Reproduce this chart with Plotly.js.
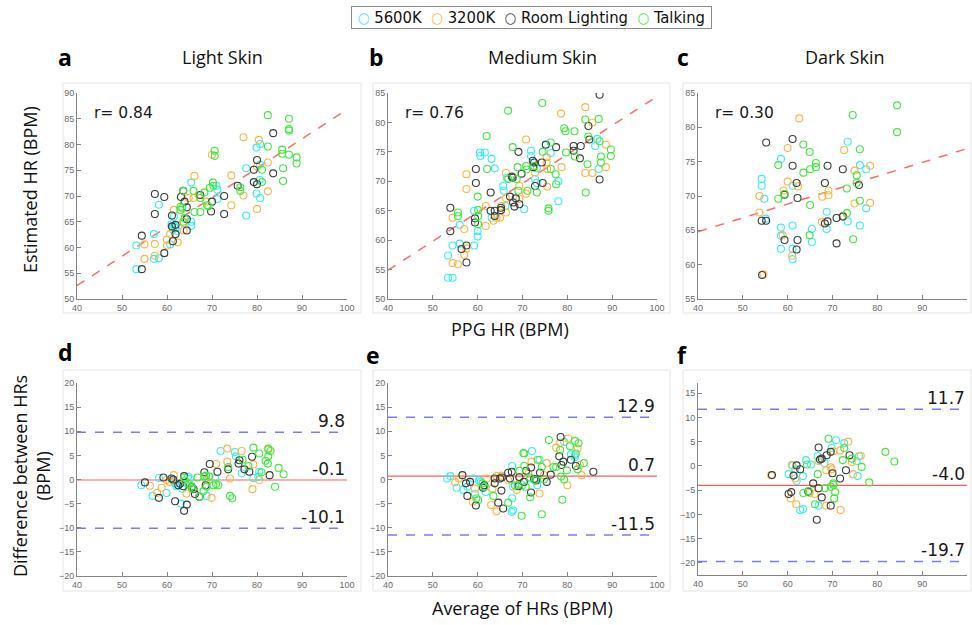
<!DOCTYPE html>
<html>
<head>
<meta charset="utf-8">
<script src="https://cdn.plot.ly/plotly-3.0.1.min.js"></script>
<style>html,body{margin:0;padding:0;background:#fff;}#chart{width:972px;height:625px;}</style>
</head>
<body>
<div id="chart"></div>
<script>
// ---------- DATA ----------
const seriesNames = ['5600K', '3200K', 'Room Lighting', 'Talking'];
const panelTitles = ['Light Skin', 'Medium Skin', 'Dark Skin'];
const panelLetters = ['a', 'b', 'c', 'd', 'e', 'f'];
const xTicks = [40, 50, 60, 70, 80, 90, 100];

// Panel a (Light skin) : PPG HR vs estimated HR
const aCyanX = [53.2,53.2,57.1,57.1,58.2,58.2,65.4,61.0,61.5,61.9,61.3,62.2,60.7,65.4,65.4,71.0,71.2,71.2,77.6,77.6,79.9,80.7,79.9,80.7,80.6,80.7,61.5];
const aCyanY = [55.8,60.4,62.6,57.8,57.9,68.3,72.6,64.5,64.2,63.8,63.5,63.2,60.6,65.0,64.2,72.0,71.2,69.4,75.4,66.2,79.4,80.1,70.5,69.6,73.1,76.1,66.0];
const aOrangeX = [55,55,57.3,57.3,60,60,62.4,61.5,64.8,65.9,66.1,67,68.7,70,74.3,74.3,77,77,80.4,80,82.4,82.4,80,63.7,63.7,60.7];
const aOrangeY = [60.6,57.8,60.7,58.4,61.5,60.4,61,67.3,69.6,69.6,73.9,70.2,68.9,78,74,68.2,81.4,70.1,80.9,67.5,76.5,70.9,75.7,64.7,63.3,62.6];
const aBlackX = [54.4,54.4,57.3,57.3,59.4,59.4,61.1,61.1,61.3,61.9,61.9,63.1,63.6,63.9,64.4,64.4,64.4,67.4,69.8,70,72.7,72.7,75.7,79.3,79.3,80,80,83.6,83.6];
const aBlackY = [62.3,55.8,70.4,66.5,69.8,58.9,66.2,64.1,61.2,62.6,64.4,69.8,71,68.9,67.8,65.5,63.3,70.2,67,68.9,70,66.5,72,75.1,72.7,77,72.3,82.2,74.4];
const aGreenX = [63.6,63,63,63.4,63.9,63.6,65.9,66.1,67.4,67.4,68.3,68.9,69.2,69.5,70.2,70.3,70.6,70.6,76.3,76.3,81.1,81.1,82.4,82.4,85.6,85.6,85.8,85.8,87.1,87.1,87.1,87.1,88.8,88.8];
const aGreenY = [71,67.9,67.3,67.7,65.7,65,71,66.9,66.9,69.6,70.7,68.2,68,71.6,72.6,72,78.8,77.8,71.7,71,75.1,72.7,85.7,79.6,79,78.2,75.4,72.9,85,83,82.7,78,77.5,76.3];

// Panel b (Medium skin)
const bCyanX = [53.4,53.4,54.4,54.4,56,56,59.2,59.2,60,60,60.5,60.6,61.6,63.1,63.8,63.1,65.7,65.8,66.2,66.5,70.4,71.9,71.9,73.2,72.8,75.2,76.3,78,78,86.2,86.7,87,73.2];
const bCyanY = [57.4,53.6,53.6,59.1,59.4,62.6,59.1,65,61.5,60.6,74.9,74.3,74.9,73.8,72.2,63.8,69.2,68.4,65.8,70.6,65.3,75.2,74.3,72.2,70.4,76.3,74.8,70,66.6,76,77.2,72.1,69.7];
const bOrangeX = [54.4,54.4,55.6,57,57,57.5,57.5,57.5,61.8,61.8,63.5,64.2,65,65.3,66.3,66.3,66.3,69.3,69.3,70.8,70.8,72.8,75.4,75.4,75.5,75.5,78.6,78.7,84,84,85.6,85.6,88.6,88.6];
const bOrangeY = [63.8,56.1,55.9,61.9,57.5,71.2,68.7,58.6,65.8,62.4,63.3,63.8,63.8,65.8,71.4,67.1,64.7,69.2,67,77.1,67.9,71.5,74.1,73.2,72.1,69.1,81.5,72.4,82.6,71.4,80,71.4,76.2,72.4];
const bBlackX = [53.9,53.9,56.4,57.5,57.5,59.6,59.6,59.4,59.4,62.9,62.9,63.8,63.8,65.2,65.2,67.2,67.6,67.8,67.9,68.2,68.5,69.1,69.3,69.8,72.3,72.6,72.4,72.8,74.3,74.5,75.2,77.5,81.4,81.4,82.8,83,84.7,84.9,87.2,87.2];
const bBlackY = [65.5,61.5,58.5,59.1,56.2,72.1,69.7,63.7,63,68.1,65,65,64.1,65.5,65.1,67.4,70.8,70.6,66.4,65.7,67.1,75,66.1,71.3,73.5,73.2,72.4,69.2,73.2,69.7,76.2,75.8,76,75.2,73.9,76,79.4,77.1,84.7,70.3];
const bGreenX = [55.6,55.6,60,60.1,60.1,60.1,62,62.1,66.8,66.8,67.8,68.7,68.9,69.1,70.8,70.9,71.1,72.6,73.2,74.4,74.5,75.8,75.8,76.3,76.3,77.4,77.5,79.3,79.6,79.7,81.6,81.7,84,84.1,84.5,84.7,87,87.2,87.5,87.5,89.7,89.7];
const bGreenY = [64.7,64.1,67.4,65.1,64.1,62.7,77.7,72.1,82,70.4,75.8,70.4,72.4,68.4,72.6,72,68.4,72.6,68.1,83.3,75,65.4,65,76.6,72.1,71.2,69.5,79,78.5,74.9,78.5,74.2,80.5,68.1,72.9,77.6,80.6,76.8,74.2,73.2,75.4,74.3];

// Panel c (Dark skin)
const cCyanX = [54.2,54.2,54.8,55.1,58.5,58.5,58.5,58.5,61.1,61.1,61.1,61.1,65.4,65.4,68.7,68.7,73.4,73.4,76.1,76.1,77.5,77.5];
const cCyanY = [72.5,71.5,69.6,66.7,75.4,65.4,64.2,62.3,71.5,65.7,62.3,60.8,65.2,63.3,67.7,65.2,77.9,66.3,74.5,65.7,73.9,68.2];
const cOrangeX = [53.7,53.7,54.6,58.9,59.1,60,60,61,62.3,62.6,67.6,67.7,69.1,69.1,72.6,72.4,74.9,74.9,78.4,78.4];
const cOrangeY = [70,67.6,58.6,64.3,70.8,77,72.1,61.3,71.4,81.3,66.2,69.9,70.8,70.1,76.7,67.1,73.7,68.9,74.4,69];
const cBlackX = [54.2,55.2,55.2,54.3,59.3,59.3,61.1,61.1,62,62.2,62.2,62,68.3,68.3,68.9,68.9,70.9,70.9,72.3,72.3,75.9];
const cBlackY = [66.4,66.4,77.8,58.5,70.2,63.6,78.3,74.4,71.9,69.7,63.6,62.2,71.9,66,74.4,66.3,66.8,63.1,73.9,67,71.6];
const cGreenX = [57.9,57.9,59.3,63.5,63.5,64.9,65,65,64.9,66.3,66.3,73.2,73.2,74.5,74.6,75.4,75.4,76.1,76.1,84.4,84.4];
const cGreenY = [74.5,69.6,70.3,77.5,73.4,76.4,73.9,68.7,64.3,74.8,74.2,71.1,67.5,81.8,63.7,73,71.9,76.8,69.3,83.2,79.3];

// Panel d (Light skin Bland-Altman)
const dCyanX = [54.3,56.8,58.2,59.9,61.4,61.8,62.1,62.5,63.1,64.7,65.1,68.8,70.7,71.9,75.1,75.3,76.6,79.2,80.5,80.3,63.4];
const dCyanY = [-1.2,-3.4,0.3,-2.8,-0.3,-0.8,-1.4,-1.2,-5,0.6,0.1,-3.4,0.2,5.9,5.7,4.8,1.3,0.3,1.6,0.6,-1.9];
const dOrangeX = [56.2,57.8,58.8,59.9,60.6,61.5,64.3,65.5,68.8,69.9,70.9,73.4,73.4,74,76.6,79.2,79,80.5,82.5];
const dOrangeY = [-1.3,-2.8,-1.7,-0.1,-0.5,0.9,-2.9,-1.7,-0.1,-3.8,3.2,6.4,3.7,0.2,5.9,3.1,-2,-0.1,6.2];
const dBlackX = [55.1,58.2,59.2,61,61.4,61.8,62.5,62.9,63.8,63.8,64.4,63.6,65.5,65.9,66.2,67.2,68.3,68.6,69.5,71.2,73.6,76.1,75.9,77.2,78.3,78.9,82.8];
const dBlackY = [-0.6,-3.8,0.4,0.2,0,-4.5,-1.2,-0.9,0.7,-6.5,-5.2,-1.4,-1.5,-2,-3,-3.6,1.5,-1.2,3.2,1.6,2.1,4,3.3,2.1,1.6,4.7,0.9];
const dGreenX = [63.8,64,64.9,65.4,65.7,66.8,67.2,68.3,68.7,68.8,69.4,70.3,70.9,71.4,73.6,74,74.5,76.8,78.1,79.2,80.5,81,81.9,82.4,82.5,83,82.5,84,84.8,85.9,68.1];
const dGreenY = [0.3,-0.2,-1,-1.5,-1.9,0.4,-3.6,0.6,0.8,-1.5,0.6,-1.2,-1,-1.2,2.6,-3.4,-3.9,4.1,2.8,6.6,5.4,1.5,3.9,3.3,6.4,5.9,4.8,-1.5,2.4,1.1,-2.4];

// Panel e (Medium skin Bland-Altman)
const eCyanX = [53.2,53.9,55.3,56.8,57.7,59,59.4,60.3,60.7,61.8,67.7,67.7,67.9,67.6,67.9,70,72.1,73.3,73.8,79.3,80.8,81.7,81.7,71.7,73.2];
const eCyanY = [0.2,0.7,-1.7,-2.1,-1.5,0.2,-3,-0.2,-0.5,-2.6,2.8,-3.9,-1.5,-6.7,-6.4,-1.2,5.9,-1.2,4.1,7.8,5.2,5,4.6,0.2,-0.1];
const eOrangeX = [55,55.8,58.9,59.4,62,63,63.3,64.2,64.2,65.3,66.8,68.7,69.3,71.3,72,73.8,75.4,77.5,78.4,80,80.2,82.3,82.8,83.2,74.8];
const eOrangeY = [-0.6,0.2,-4.6,-1.9,0.2,-5.3,-1.9,0.7,-6.6,0.8,-0.1,-2.2,0.3,1.2,3.7,-2.9,3.4,6.6,7.6,-1.2,8.5,6.4,3,0.9,0.9];
const eBlackX = [56.6,57.4,57.7,58.3,59.6,61.2,61.5,63.8,63.8,64.6,65,65.4,65.3,65.7,66.8,67.6,67.2,69.1,69.3,70.3,70.8,71.9,71.9,72.6,73,73.9,75.4,76.3,78.2,78.5,78.7,79.1,80.8,81.9,85.8];
const eBlackY = [0.9,-0.8,-3.4,-0.5,-5.4,-1.7,-1.2,0.2,-0.8,-4.8,0.2,0.4,-2.3,-6,1.4,1.6,0.2,-1.4,0.5,-0.5,1.8,2.5,-2.7,0.1,-0.2,1.4,-0.5,1,4.8,8.8,3,3.7,4.1,2.8,1.6];
const eGreenX = [59.7,60.1,61.1,61.5,63.5,66.8,68.3,68.9,69.3,69.8,70.2,70.4,70.4,70.7,71.7,71.7,72.8,73.4,74.3,74.3,74.8,75.9,76.9,77.5,78.4,78.6,78.9,79.9,80.6,81.7,81.9,82.3,82.5,83.7,79.3];
const eGreenY = [-3.9,-4.3,-0.8,-1.5,-3.4,-4.8,-1.2,-1.2,1.8,-7.5,5.5,5.4,2.8,-1.5,0.4,-3.7,-0.1,4.1,2.6,-7.2,0,8.2,2.6,2.6,6.1,0.6,-4.2,1.9,6.9,8,5.4,2.1,7.5,3.4,0];

// Panel f (Dark skin Bland-Altman)
const fCyanX = [60.2,61.1,61.7,62,62.8,63.4,63.4,64.1,65.2,66.7,66.9,68.2,69.8,70.8,72.6,75.4,75.6,75.9];
const fCyanY = [-1.7,0.1,-0.7,-3.1,-9.1,-8.9,-2.1,1.2,0.3,2,-8.2,0.6,3.7,5.3,4.7,1,-2.1,2];
const fOrangeX = [56.3,60.9,60.7,61.7,61.9,64.9,66,66.9,66.9,68.6,68.6,69.6,69.8,71.7,71.8,73.5,74.3,74.6,76.3,70.2];
const fOrangeY = [-1.9,0.2,-6.7,-2.6,-7.9,-5.6,-5.8,-4.6,1,-0.9,-8.2,-0.3,-0.7,3.2,-9.1,5,0.8,-1.7,2.1,3];
const fBlackX = [56.5,60.2,60.8,61.3,62,62.8,65.7,66.9,66.9,67.2,67.6,67.6,68.7,69.6,69.6,70,71.7,73,73.8,66.5,64.6];
const fBlackY = [-1.9,-5.8,-5.4,-2,0.1,-0.7,-3.6,3.8,-4.6,1.3,1.5,-6.5,2.2,2.9,-8.2,-1.5,-2.6,-0.9,2.2,-11.1,-5.3];
const fGreenX = [63.5,64.3,64.7,66.1,66.7,68.3,69.1,69.6,70.2,70.2,70.6,70.4,72.3,72.6,74.3,76.5,78.2,81.8,83.8];
const fGreenY = [-5.6,0.3,-5.2,-7.9,-1.7,-4.6,5.6,-4.3,-3.6,-3.9,-5.4,-6.7,1.2,3.7,1.5,-0.2,-3.4,2.9,0.9];

// Statistics
const rValues = ['0.84', '0.76', '0.30'];
const fitX = [40, 100];
const fitStartY = [52.6, 54.9, 64.8];
const fitEndY = [86.8, 84.4, 76.9];
const baMean = [-0.1, 0.7, -4.0];
const baUpper = [9.8, 12.9, 11.7];
const baLower = [-10.1, -11.5, -19.7];

// ---------- STYLE / LAYOUT ----------
const W = 972, H = 625;
const colors = ['#35eef5', '#ffb444', '#3c3c3c', '#3ee83e'];
const px = v => v / W;
const py = v => 1 - v / H;

const panels = [
  {xs:[aCyanX,aOrangeX,aBlackX,aGreenX], ys:[aCyanY,aOrangeY,aBlackY,aGreenY], xd:[77,347], yd:[93,299], yr:[50,90], yt:[50,55,60,65,70,75,80,85,90]},
  {xs:[bCyanX,bOrangeX,bBlackX,bGreenX], ys:[bCyanY,bOrangeY,bBlackY,bGreenY], xd:[388,657], yd:[93,299], yr:[50,85], yt:[50,55,60,65,70,75,80,85]},
  {xs:[cCyanX,cOrangeX,cBlackX,cGreenX], ys:[cCyanY,cOrangeY,cBlackY,cGreenY], xd:[698,967], yd:[93,299], yr:[55,85], yt:[55,60,65,70,75,80,85]},
  {xs:[dCyanX,dOrangeX,dBlackX,dGreenX], ys:[dCyanY,dOrangeY,dBlackY,dGreenY], xd:[77,347], yd:[383,576], yr:[-20,20], yt:[-20,-15,-10,-5,0,5,10,15,20]},
  {xs:[eCyanX,eOrangeX,eBlackX,eGreenX], ys:[eCyanY,eOrangeY,eBlackY,eGreenY], xd:[388,657], yd:[383,576], yr:[-20,20], yt:[-20,-15,-10,-5,0,5,10,15,20]},
  {xs:[fCyanX,fOrangeX,fBlackX,fGreenX], ys:[fCyanY,fOrangeY,fBlackY,fGreenY], xd:[698,967], yd:[383,575], yr:[-22.5,17.1], yt:[-20,-15,-10,-5,0,5,10,15]}
];

const traces = [];
const layout = {
  width: W, height: H,
  margin: {l:0, r:0, t:0, b:0, pad:0},
  paper_bgcolor: '#ffffff', plot_bgcolor: 'rgba(0,0,0,0)',
  showlegend: false,
  annotations: [], shapes: []
};

const axisStyle = {
  showline:true, linecolor:'#858585', linewidth:1, ticks:'inside', ticklen:4, tickcolor:'#858585',
  showgrid:false, zeroline:false, automargin:false, mirror:false,
  tickfont:{family:'Liberation Sans, Arial, sans-serif', size:9, color:'#6a6a6a'}
};

panels.forEach((p, i) => {
  const n = i === 0 ? '' : String(i + 1);
  const xa = 'x' + n, ya = 'y' + n;
  layout['xaxis' + n] = Object.assign({}, axisStyle, {
    domain:[px(p.xd[0]), px(p.xd[1])], range:[40, 100], anchor: ya,
    tickmode:'array', tickvals:xTicks
  });
  layout['yaxis' + n] = Object.assign({}, axisStyle, {
    domain:[py(p.yd[1]), py(p.yd[0])], range:p.yr, anchor: xa,
    tickmode:'array', tickvals:p.yt
  });
  if (i < 3) {
    traces.push({x:fitX, y:[fitStartY[i], fitEndY[i]], xaxis:xa, yaxis:ya, mode:'lines', showlegend:false,
      hoverinfo:'skip', line:{color:'#ff6b6b', width:1.5, dash:'dash'}});
    layout.annotations.push({xref:xa, yref:ya, x:43.3, y:[86.1, 81.6, 82.1][i], xanchor:'left', yanchor:'middle',
      text:'r= ' + rValues[i], showarrow:false, font:{family:'DejaVu Sans, sans-serif', size:15.5, color:'#1a1a1a'}});
  } else {
    const k = i - 3;
    [baUpper[k], baLower[k]].forEach(v => traces.push({x:fitX, y:[v, v], xaxis:xa, yaxis:ya, mode:'lines',
      showlegend:false, hoverinfo:'skip', line:{color:'#7a7cf5', width:1.5, dash:'dash'}}));
    traces.push({x:fitX, y:[baMean[k], baMean[k]], xaxis:xa, yaxis:ya, mode:'lines', showlegend:false,
      hoverinfo:'skip', line:{color:'#ff5a5a', width:1.2}});
    [baUpper[k], baMean[k], baLower[k]].forEach(v => layout.annotations.push({xref:xa, yref:ya, x:100, y:v,
      xanchor:'right', yanchor:'bottom', yshift:-1, text:v.toFixed(1), showarrow:false,
      font:{family:'DejaVu Sans, sans-serif', size:17, color:'#1a1a1a'}}));
  }
  p.xs.forEach((xv, s) => {
    traces.push({x:xv, y:p.ys[s], xaxis:xa, yaxis:ya, mode:'markers', type:'scatter',
      name:seriesNames[s], legendgroup:seriesNames[s], showlegend:false,
      marker:{symbol:'circle-open', size:7, color:colors[s], line:{width:1.1, color:colors[s]}}});
  });
});

// Compact legend box (text with coloured circle glyphs)
const NB = '\u00A0';
const legendText = NB + seriesNames.map((nm, s) =>
  '<span style="color:' + colors[s] + ';font-size:15px">○</span>' + NB + nm).join(NB + NB) + NB;
layout.annotations.push({xref:'paper', yref:'paper', x:px(531), y:py(17), xanchor:'center', yanchor:'middle',
  text:legendText, showarrow:false, bordercolor:'#8c8c8c', borderwidth:1, borderpad:1, bgcolor:'#fff',
  font:{family:'DejaVu Sans Condensed, Liberation Sans Narrow, sans-serif', size:16.5, color:'#111'}});

// Panel frames
const frames = [[63,361,83,313],[373,670,83,313],[683,971,83,313],[63,361,370,591],[373,670,370,591],[683,971,370,591]];
frames.forEach(f => layout.shapes.push({type:'rect', xref:'paper', yref:'paper', x0:px(f[0]), x1:px(f[1]),
  y0:py(f[3]), y1:py(f[2]), line:{color:'#e4e4e4', width:1}, layer:'below'}));

// Panel letters and titles
const letterPos = [[65,57],[376,57],[683,57],[65,352],[373,355],[682,355]];
panelLetters.forEach((l, i) => layout.annotations.push({xref:'paper', yref:'paper', x:px(letterPos[i][0]), y:py(letterPos[i][1]),
  text:'<b>' + l + '</b>', showarrow:false, xanchor:'center', yanchor:'middle',
  font:{family:'Open Sans, DejaVu Sans, sans-serif', size:23, color:'#000'}}));
const titlePos = [222, 542, 844];
panelTitles.forEach((t, i) => layout.annotations.push({xref:'paper', yref:'paper', x:px(titlePos[i]), y:py(57),
  text:t, showarrow:false, xanchor:'center', yanchor:'middle',
  font:{family:'Open Sans, sans-serif', size:18, color:'#111'}}));

// Axis titles
const labelFont = {family:'Open Sans, sans-serif', size:18, color:'#111'};
layout.annotations.push({xref:'paper', yref:'paper', x:px(30), y:py(190), text:'Estimated HR (BPM)', textangle:-90,
  showarrow:false, xanchor:'center', yanchor:'middle', font:labelFont});
layout.annotations.push({xref:'paper', yref:'paper', x:px(510), y:py(329), text:'PPG HR (BPM)',
  showarrow:false, xanchor:'center', yanchor:'middle', font:labelFont});
layout.annotations.push({xref:'paper', yref:'paper', x:px(31), y:py(476), text:'Difference between HRs<br>(BPM)', textangle:-90,
  showarrow:false, xanchor:'center', yanchor:'middle', font:labelFont});
layout.annotations.push({xref:'paper', yref:'paper', x:px(522), y:py(608), text:'Average of HRs (BPM)',
  showarrow:false, xanchor:'center', yanchor:'middle', font:labelFont});

Plotly.newPlot('chart', traces, layout, {staticPlot:true, displayModeBar:false});
</script>
</body>
</html>
